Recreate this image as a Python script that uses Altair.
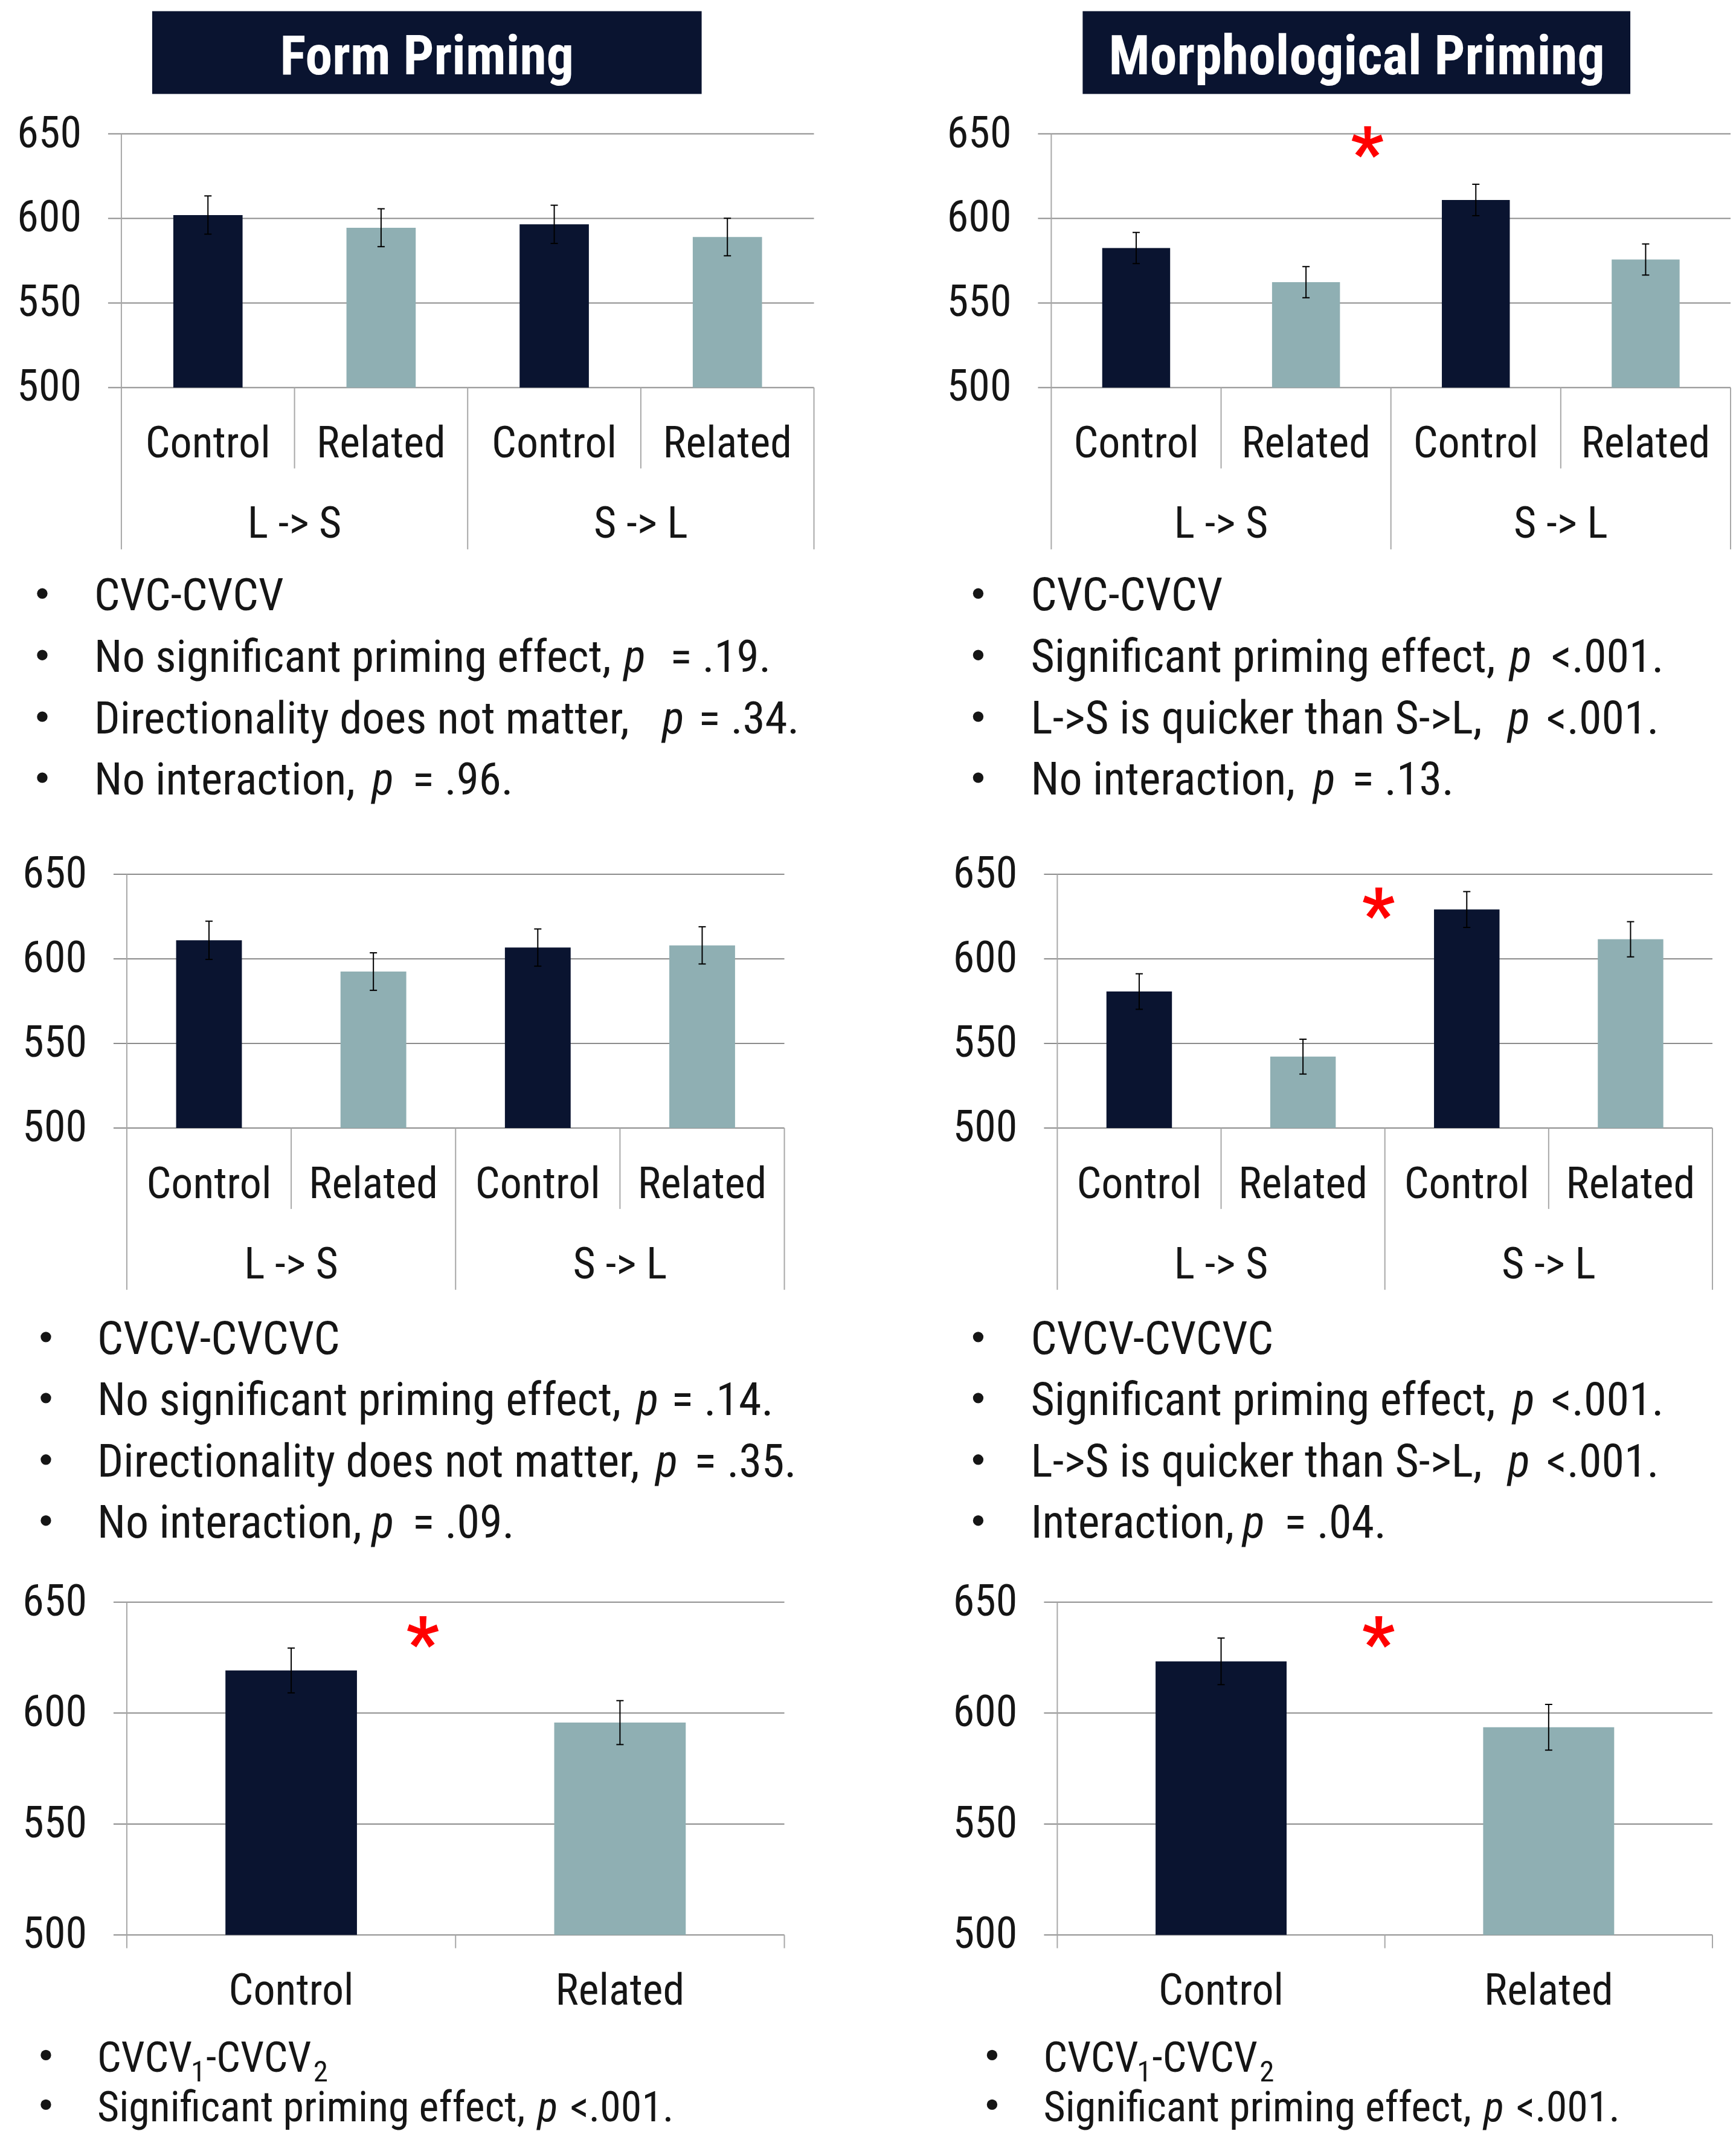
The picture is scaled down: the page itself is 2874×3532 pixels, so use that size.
import altair as alt
import pandas as pd

# ---------------- data ----------------
cond_4 = ["Control", "Related", "Control", "Related"]
cond_2 = ["Control", "Related"]
direction = ["L -> S", "S -> L"]
y_ticks = [500, 550, 600, 650]
headings = ["Form Priming", "Morphological Priming"]

form_cvc_rt = [602.0, 594.5, 596.5, 589.0]
form_cvc_se = [11.3, 11.2, 11.3, 11.1]
morph_cvc_rt = [582.5, 562.3, 610.9, 575.7]
morph_cvc_se = [9.2, 9.2, 9.3, 9.2]
form_cvcv_rt = [611.0, 592.5, 606.7, 608.0]
form_cvcv_se = [11.3, 11.1, 11.0, 11.0]
morph_cvcv_rt = [580.7, 542.2, 629.2, 611.6]
morph_cvcv_se = [10.5, 10.3, 10.6, 10.4]
form_v12_rt = [619.2, 595.7]
form_v12_se = [10.1, 9.9]
morph_v12_rt = [623.3, 593.6]
morph_v12_se = [10.5, 10.3]

notes_form_cvc = [["CVC-CVCV"],
                  ["No significant priming effect,", "p", "= .19."],
                  ["Directionality does not matter,", "p", "= .34."],
                  ["No interaction,", "p", "= .96."]]
notes_morph_cvc = [["CVC-CVCV"],
                   ["Significant priming effect,", "p", "<.001."],
                   ["L->S is quicker than S->L,", "p", "<.001."],
                   ["No interaction,", "p", "= .13."]]
notes_form_cvcv = [["CVCV-CVCVC"],
                   ["No significant priming effect,", "p", "= .14."],
                   ["Directionality does not matter,", "p", "= .35."],
                   ["No interaction,", "p", "= .09."]]
notes_morph_cvcv = [["CVCV-CVCVC"],
                    ["Significant priming effect,", "p", "<.001."],
                    ["L->S is quicker than S->L,", "p", "<.001."],
                    ["Interaction,", "p", "= .04."]]
notes_form_v12 = [["CVCV", "1", "-CVCV", "2"],
                  ["Significant priming effect,", "p", "<.001."]]
notes_morph_v12 = [["CVCV", "1", "-CVCV", "2"],
                   ["Significant priming effect,", "p", "<.001."]]

# ---------------- style / layout ----------------
FONT = ("'Liberation Sans Narrow', 'Arial Narrow', 'Roboto Condensed', "
        "'DejaVu Sans Condensed', 'Liberation Sans', sans-serif")
NAVY = "#0a1430"
TEAL = "#8fafb3"
GRID = "#8c8c8c"
SEP = "#a8a8a8"
TEXT = "#151515"
RED = "#ff0000"
AX_FS = 72
SUB_DROP = 16
TITLE_FS = 90
BAR_HALF = 0.2
STYLES = {1: ["n"], 3: ["n", "i", "n"], 4: ["n", "s", "n", "s"]}

# grid cells (page px): column lefts, row tops, row spacing
COL_LEFT = [201, 1741]
ROW_TOP = [221, 1426, 2652]
ROW_SP = 785
COL_SP = 393
# plot areas (page px): left, top, width, height
plot_box = {
    "p1": (201, 221, 1147, 420), "p2": (1741, 221, 1125, 420),
    "p3": (210, 1447, 1089, 420), "p4": (1751, 1447, 1085, 420),
    "p5": (210, 2652, 1089, 551), "p6": (1751, 2652, 1085, 551),
}

heading_box = [(252, 18, 1162, 155), (1793, 18, 2700, 155)]
heading_text = [(707, 122), (2247, 122)]

note_layout = {
    "p1": dict(fs=75, bx=70, base=[1010, 1112, 1214, 1315],
               sx=[[156], [156, 1033, 1110], [156, 1097, 1157], [156, 616, 683]]),
    "p2": dict(fs=76, bx=1620, base=[1010, 1112, 1214, 1315],
               sx=[[1707], [1707, 2500, 2569], [1707, 2497, 2561], [1707, 2175, 2239]]),
    "p3": dict(fs=76, bx=76, base=[2241, 2342, 2444, 2545],
               sx=[[161], [161, 1054, 1112], [161, 1086, 1150], [161, 616, 683]]),
    "p4": dict(fs=76, bx=1620, base=[2241, 2342, 2444, 2545],
               sx=[[1707], [1707, 2505, 2569], [1707, 2497, 2561], [1707, 2058, 2127]]),
    "p5": dict(fs=70, bx=76, base=[3430, 3512],
               sx=[[161, 316, 341, 519], [161, 890, 944]]),
    "p6": dict(fs=70, bx=1643, base=[3430, 3512],
               sx=[[1728, 1883, 1908, 2086], [1728, 2457, 2511]]),
}

ONE = pd.DataFrame({"k": [0]})


def label(txt, x, y, size, italic=False, align="left", color=TEXT, bold=False):
    kw = dict(align=align, baseline="alphabetic", font=FONT, fontSize=size, color=color)
    if italic:
        kw["fontStyle"] = "italic"
    if bold:
        kw["fontWeight"] = "bold"
    return alt.Chart(pd.DataFrame({"t": [txt]})).mark_text(**kw).encode(
        text="t:N", x=alt.value(x), y=alt.value(y))


def make_panel(key, rt, se, cats, row, col, notes, star, heading=None, anchor=False):
    n = len(rt)
    px, py, w, h = plot_box[key]
    cx, cy = COL_LEFT[col], ROW_TOP[row]
    xo, yo = px - cx, py - cy          # plot offset inside the grid cell
    xs = alt.Scale(domain=[0, n], range=[xo, xo + w], nice=False, zero=False)
    ys = alt.Scale(domain=[500, 650], range=[yo + h, yo], nice=False, zero=False)
    bot = yo + h

    df = pd.DataFrame({"pos": [i + 0.5 for i in range(n)], "cond": cats, "rt": rt, "se": se})
    df["lo"] = df["pos"] - BAR_HALF
    df["hi"] = df["pos"] + BAR_HALF
    df["etop"] = df["rt"] + df["se"]
    df["ebot"] = df["rt"] - df["se"]
    base = alt.Chart(df)
    tick_df = pd.DataFrame({"v": y_ticks})

    grid = alt.Chart(tick_df).mark_rule(color=GRID, strokeWidth=2).encode(
        y=alt.Y("v:Q", scale=ys, axis=None), x=alt.value(xo - 22), x2=alt.value(xo + w))
    ylab = alt.Chart(tick_df).mark_text(align="right", baseline="middle", font=FONT,
                                        fontSize=AX_FS, color=TEXT).encode(
        y=alt.Y("v:Q", scale=ys, axis=None), x=alt.value(xo - 66), text="v:Q")
    bars = base.mark_bar().encode(
        x=alt.X("lo:Q", scale=xs, axis=None), x2="hi:Q",
        y=alt.Y("rt:Q", scale=ys, axis=None), y2=alt.datum(500),
        color=alt.Color("cond:N", scale=alt.Scale(domain=cond_2, range=[NAVY, TEAL]), legend=None))
    err = base.mark_rule(color="black", strokeWidth=2).encode(
        x=alt.X("pos:Q", scale=xs, axis=None),
        y=alt.Y("ebot:Q", scale=ys, axis=None), y2="etop:Q")
    cap_t = base.mark_rule(color="black", strokeWidth=2, xOffset=-6, x2Offset=6).encode(
        x=alt.X("pos:Q", scale=xs, axis=None), x2="pos:Q",
        y=alt.Y("etop:Q", scale=ys, axis=None))
    cap_b = base.mark_rule(color="black", strokeWidth=2, xOffset=-6, x2Offset=6).encode(
        x=alt.X("pos:Q", scale=xs, axis=None), x2="pos:Q",
        y=alt.Y("ebot:Q", scale=ys, axis=None))
    cat_text = base.mark_text(font=FONT, fontSize=AX_FS, color=TEXT, baseline="alphabetic",
                              align="center").encode(
        x=alt.X("pos:Q", scale=xs, axis=None), y=alt.value(bot + 116), text="cond:N")

    layers = [grid, ylab, bars, err, cap_t, cap_b, cat_text]
    if n == 4:
        inner = alt.Chart(pd.DataFrame({"b": [1, 3]})).mark_rule(color=SEP, strokeWidth=2).encode(
            x=alt.X("b:Q", scale=xs, axis=None), y=alt.value(bot), y2=alt.value(bot + 134))
        outer = alt.Chart(pd.DataFrame({"b": [0, 2, 4]})).mark_rule(color=SEP, strokeWidth=2).encode(
            x=alt.X("b:Q", scale=xs, axis=None), y=alt.value(bot), y2=alt.value(bot + 268))
        grp = alt.Chart(pd.DataFrame({"g": direction, "gp": [1, 3]})).mark_text(
            font=FONT, fontSize=AX_FS, color=TEXT, baseline="alphabetic", align="center").encode(
            x=alt.X("gp:Q", scale=xs, axis=None), y=alt.value(bot + 249), text="g:N")
        layers += [inner, outer, grp]
    else:
        tk = alt.Chart(pd.DataFrame({"b": [0, 1, 2]})).mark_rule(color=SEP, strokeWidth=2).encode(
            x=alt.X("b:Q", scale=xs, axis=None), y=alt.value(bot), y2=alt.value(bot + 22))
        layers += [tk]
    left = alt.Chart(ONE).mark_rule(color=SEP, strokeWidth=2).encode(
        x=alt.value(xo), y=alt.value(yo), y2=alt.value(bot))
    layers.append(left)
    if star is not None:
        st = alt.Chart(pd.DataFrame({"sx": [star[0]], "sy": [star[1]]})).mark_text(
            text="*", color=RED, font=FONT, fontSize=120, fontWeight="bold",
            baseline="alphabetic", align="center", dy=62).encode(
            x=alt.X("sx:Q", scale=xs, axis=None), y=alt.Y("sy:Q", scale=ys, axis=None))
        layers.append(st)

    # ----- pixel-positioned notes -----
    lay = note_layout[key]
    fs = lay["fs"]
    for li, segs in enumerate(notes):
        styles = STYLES[len(segs)]
        by = lay["base"][li] - cy
        layers.append(alt.Chart(ONE).mark_circle(size=300, color=TEXT, opacity=1).encode(
            x=alt.value(lay["bx"] - cx), y=alt.value(by - 28)))
        for seg, sxp, sty in zip(segs, lay["sx"][li], styles):
            if sty == "s":
                layers.append(label(seg, sxp - cx, by + SUB_DROP, round(fs * 0.7)))
            else:
                layers.append(label(seg, sxp - cx, by, fs, italic=(sty == "i")))
    if heading is not None:
        bx0, by0, bx1, by1 = heading_box[col]
        tx, ty = heading_text[col]
        layers.append(alt.Chart(ONE).mark_rect(color=NAVY).encode(
            x=alt.value(bx0 - cx), x2=alt.value(bx1 - cx), y=alt.value(by0 - cy), y2=alt.value(by1 - cy)))
        layers.append(label(heading, tx - cx, ty - cy, TITLE_FS, align="center", color="white", bold=True))
    if anchor:
        layers.append(alt.Chart(ONE).mark_rect(color="white").encode(
            x=alt.value(8 - cx), x2=alt.value(9 - cx), y=alt.value(8 - cy), y2=alt.value(9 - cy)))

    return alt.layer(*layers).properties(width=xo + w, height=yo + h)


p1 = make_panel("p1", form_cvc_rt, form_cvc_se, cond_4, 0, 0, notes_form_cvc, None,
                heading=headings[0], anchor=True)
p2 = make_panel("p2", morph_cvc_rt, morph_cvc_se, cond_4, 0, 1, notes_morph_cvc, (1.86, 646),
                heading=headings[1])
p3 = make_panel("p3", form_cvcv_rt, form_cvcv_se, cond_4, 1, 0, notes_form_cvcv, None)
p4 = make_panel("p4", morph_cvcv_rt, morph_cvcv_se, cond_4, 1, 1, notes_morph_cvcv, (1.96, 633.6))
p5 = make_panel("p5", form_v12_rt, form_v12_se, cond_2, 2, 0, notes_form_v12, (0.90, 637.2))
p6 = make_panel("p6", morph_v12_rt, morph_v12_se, cond_2, 2, 1, notes_morph_v12, (0.98, 637.2))

chart = alt.concat(p1, p2, p3, p4, p5, p6, columns=2,
                   spacing={"row": ROW_SP, "column": COL_SP},
                   bounds="flush", align="each").properties(
    padding=0, background="white").configure_view(strokeWidth=0)

chart.save("out.html", embed_options={"renderer": "svg", "actions": False})
